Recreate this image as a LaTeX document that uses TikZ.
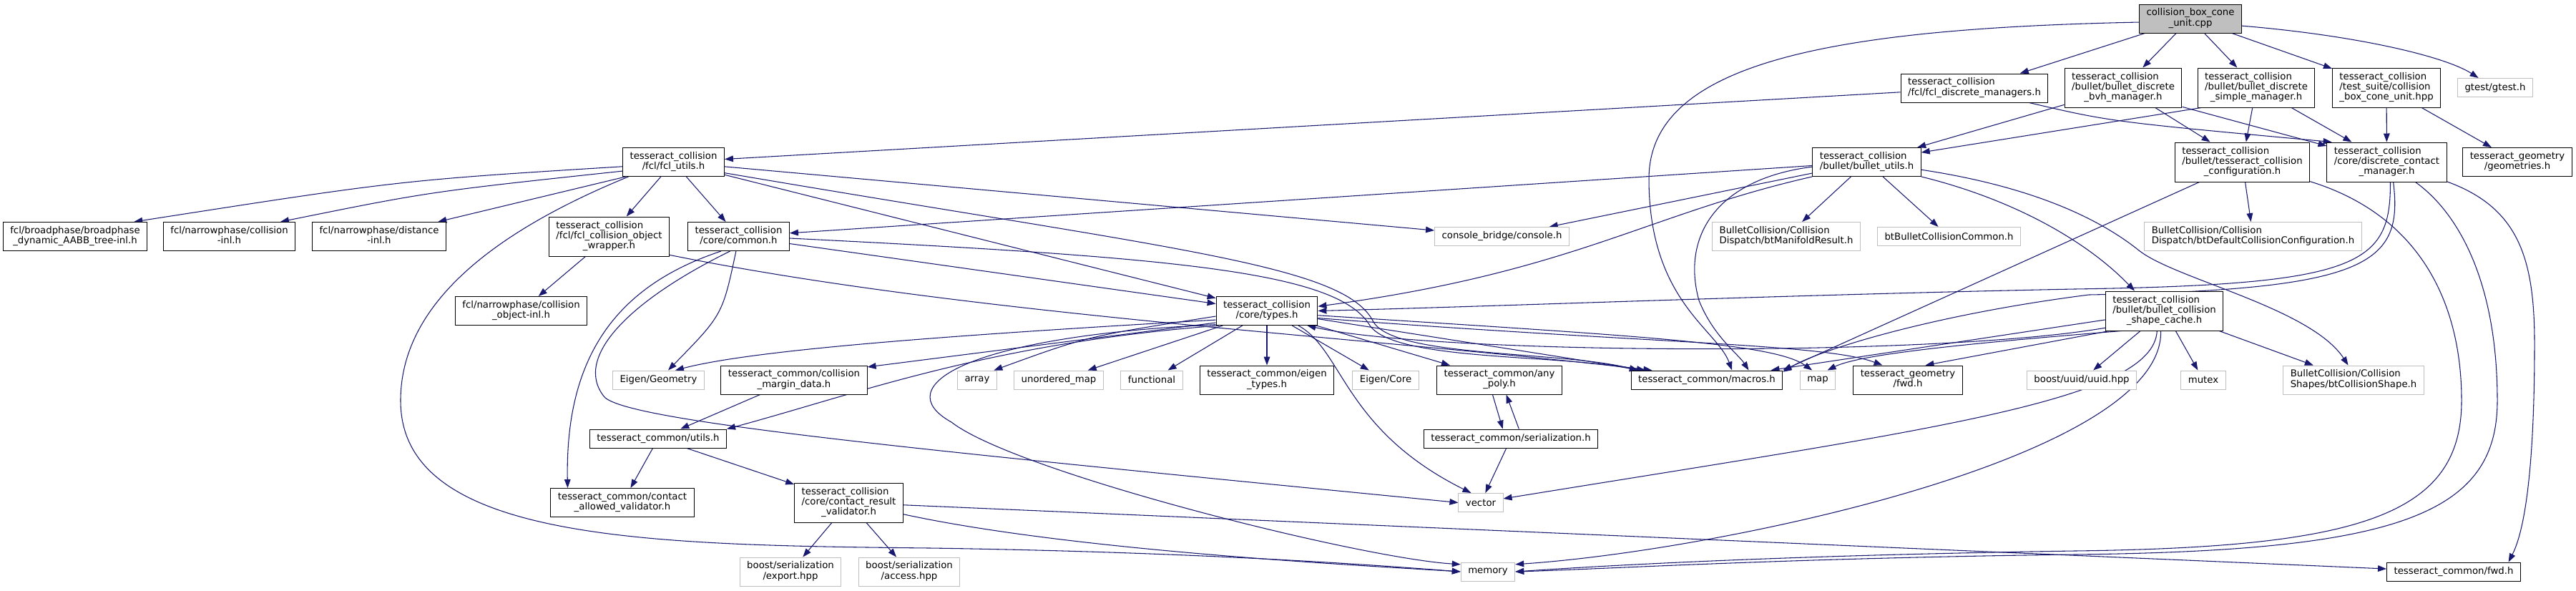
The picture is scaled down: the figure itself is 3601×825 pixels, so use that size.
\documentclass[tikz,border=0pt]{standalone}
\usepackage{fontspec}
\setmainfont{DejaVu Sans}
\usetikzlibrary{arrows.meta}
\definecolor{edgeblue}{HTML}{191970}
\definecolor{extgray}{HTML}{BFBFBF}
\pgfdeclarelayer{edgelayer}
\pgfsetlayers{edgelayer,main}
\newcommand{\lbltwo}[2]{\begin{tabular}{@{}l@{}}#1\\\multicolumn{1}{@{}c@{}}{#2}\end{tabular}}
\newcommand{\lblthree}[3]{\begin{tabular}{@{}l@{}}#1\\#2\\\multicolumn{1}{@{}c@{}}{#3}\end{tabular}}
\tikzset{
  box/.style={draw, line width=0.75bp, inner xsep=7.5bp, inner ysep=0pt, font=\fontsize{10pt}{10.5pt}\selectfont, text=black, fill=white},
  docbox/.style={box, draw=black},
  extbox/.style={box, draw=extgray},
  one/.style={minimum height=19.5bp},
  two/.style={minimum height=30bp},
  three/.style={minimum height=41.25bp},
  dep/.style={draw=edgeblue, line width=0.8bp, -{Triangle[length=9bp,width=6.5bp]}},
}
\begin{document}
\begin{tikzpicture}[x=0.75bp,y=-0.75bp]
\useasboundingbox (0,0) rectangle (3601,825);
% ---- rank A
\node[docbox,two,fill=extgray] (root) at (3062,26) {\lbltwo{collision\_box\_cone}{\_unit.cpp}};
% ---- rank B
\node[docbox,two] (fcldm) at (2760,123) {\lbltwo{tesseract\_collision}{/fcl/fcl\_discrete\_managers.h}};
\node[docbox,three] (bvh) at (2968,122.5) {\lblthree{tesseract\_collision}{/bullet/bullet\_discrete}{\_bvh\_manager.h}};
\node[docbox,three] (simple) at (3154,122.5) {\lblthree{tesseract\_collision}{/bullet/bullet\_discrete}{\_simple\_manager.h}};
\node[docbox,three] (testsuite) at (3336,122.5) {\lblthree{tesseract\_collision}{/test\_suite/collision}{\_box\_cone\_unit.hpp}};
\node[extbox,one] (gtest) at (3488,122.5) {gtest/gtest.h};
% ---- rank C
\node[docbox,two] (fcl_utils) at (941.5,226.5) {\lbltwo{tesseract\_collision}{/fcl/fcl\_utils.h}};
\node[docbox,two] (bullet_utils) at (2609.5,226.5) {\lbltwo{tesseract\_collision}{/bullet/bullet\_utils.h}};
\node[docbox,three] (tcconfig) at (3134.5,226.5) {\lblthree{tesseract\_collision}{/bullet/tesseract\_collision}{\_configuration.h}};
\node[docbox,three] (dcm) at (3336.5,226.5) {\lblthree{tesseract\_collision}{/core/discrete\_contact}{\_manager.h}};
\node[docbox,two] (geometries) at (3519,226.5) {\lbltwo{tesseract\_geometry}{/geometries.h}};
% ---- rank D
\node[docbox,two] (broadphase) at (105,330.5) {\lbltwo{fcl/broadphase/broadphase}{\_dynamic\_AABB\_tree-inl.h}};
\node[docbox,two] (collinl) at (320.5,330.5) {\lbltwo{fcl/narrowphase/collision}{-inl.h}};
\node[docbox,two] (distinl) at (530,330.5) {\lbltwo{fcl/narrowphase/distance}{-inl.h}};
\node[docbox,three] (fclcow) at (851.5,330.5) {\lblthree{tesseract\_collision}{/fcl/fcl\_collision\_object}{\_wrapper.h}};
\node[docbox,two] (common) at (1032.5,330.5) {\lbltwo{tesseract\_collision}{/core/common.h}};
\node[extbox,one] (console) at (2099.5,330.5) {console\_bridge/console.h};
\node[extbox,two] (btManifold) at (2497,330.5) {\lbltwo{BulletCollision/Collision}{Dispatch/btManifoldResult.h}};
\node[extbox,one] (btBulletCC) at (2724.5,330.5) {btBulletCollisionCommon.h};
\node[extbox,two] (btDefaultCC) at (3149.5,330.5) {\lbltwo{BulletCollision/Collision}{Dispatch/btDefaultCollisionConfiguration.h}};
% ---- rank E
\node[docbox,two] (colobjinl) at (728.5,434.5) {\lbltwo{fcl/narrowphase/collision}{\_object-inl.h}};
\node[docbox,two] (types) at (1771,434.5) {\lbltwo{tesseract\_collision}{/core/types.h}};
\node[docbox,three] (shape_cache) at (3025.5,434.5) {\lblthree{tesseract\_collision}{/bullet/bullet\_collision}{\_shape\_cache.h}};
% ---- rank F
\node[extbox,one] (EigenGeom) at (920.5,531) {Eigen/Geometry};
\node[docbox,two] (margin) at (1110,531) {\lbltwo{tesseract\_common/collision}{\_margin\_data.h}};
\node[extbox,one] (array) at (1366,531) {array};
\node[extbox,one] (unordered_map) at (1480,531) {unordered\_map};
\node[extbox,one] (functional) at (1610,531) {functional};
\node[docbox,two] (eigen_types) at (1771,531) {\lbltwo{tesseract\_common/eigen}{\_types.h}};
\node[extbox,one] (EigenCore) at (1937,531) {Eigen/Core};
\node[docbox,two] (any_poly) at (2096,531) {\lbltwo{tesseract\_common/any}{\_poly.h}};
\node[docbox,one] (macros) at (2386,531) {tesseract\_common/macros.h};
\node[extbox,one] (map) at (2541,531) {map};
\node[docbox,two] (geomfwd) at (2667,531) {\lbltwo{tesseract\_geometry}{/fwd.h}};
\node[extbox,one] (uuid) at (2910,531) {boost/uuid/uuid.hpp};
\node[extbox,one] (mutex) at (3080,531) {mutex};
\node[extbox,two] (btCollisionShape) at (3290,531) {\lbltwo{BulletCollision/Collision}{Shapes/btCollisionShape.h}};
% ---- rank G
\node[docbox,one] (utils) at (920,613) {tesseract\_common/utils.h};
\node[docbox,one] (serialization) at (2112,613) {tesseract\_common/serialization.h};
% ---- rank H
\node[docbox,two] (contact_allowed) at (870,702.5) {\lbltwo{tesseract\_common/contact}{\_allowed\_validator.h}};
\node[docbox,three] (contact_result) at (1186.5,702.5) {\lblthree{tesseract\_collision}{/core/contact\_result}{\_validator.h}};
\node[extbox,one] (vector) at (2070,702.5) {vector};
% ---- rank I
\node[extbox,two] (export) at (1105,799) {\lbltwo{boost/serialization}{/export.hpp}};
\node[extbox,two] (access) at (1271,799) {\lbltwo{boost/serialization}{/access.hpp}};
\node[extbox,one] (memory) at (2080,799) {memory};
\node[docbox,one] (fwd) at (3430,799) {tesseract\_common/fwd.h};

\begin{pgfonlayer}{edgelayer}
% root
\draw[dep] (root) -- (fcldm);
\draw[dep] (root) -- (bvh);
\draw[dep] (root) -- (simple);
\draw[dep] (root) -- (testsuite);
\draw[dep] (root.-8) .. controls (3300,50) and (3420,80) .. (gtest.150);
\draw[dep] (root.-176) .. controls (2550,40) and (2305,90) .. (2305,250) .. controls (2305,420) and (2400,460) .. (macros.21);
% rank B
\draw[dep] (fcldm) -- (fcl_utils);
\draw[dep] (fcldm.-15) .. controls (2950,170) .. (dcm.160);
\draw[dep] (bvh) -- (bullet_utils);
\draw[dep] (bvh) -- (tcconfig);
\draw[dep] (bvh.-18) -- (dcm.165);
\draw[dep] (simple.-160) -- (bullet_utils.10);
\draw[dep] (simple) -- (tcconfig);
\draw[dep] (simple) -- (dcm);
\draw[dep] (testsuite) -- (dcm);
\draw[dep] (testsuite) -- (geometries);
% fcl_utils
\draw[dep] (fcl_utils.185) .. controls (560,252) .. (broadphase.14);
\draw[dep] (fcl_utils.190) .. controls (600,268) .. (collinl.16);
\draw[dep] (fcl_utils.197) -- (distinl.14);
\draw[dep] (fcl_utils) -- (fclcow);
\draw[dep] (fcl_utils) -- (common);
\draw[dep] (fcl_utils) -- (console);
\draw[dep] (fcl_utils) -- (types);
\draw[dep] (fcl_utils.-12) .. controls (1650,350) and (1880,370) .. (1920,450) .. controls (1950,500) and (2180,490) .. (macros.172);
\draw[dep] (fcl_utils.-162) .. controls (700,320) and (560,420) .. (560,560) .. controls (560,755) and (900,762) .. (1300,766) .. controls (1700,772) and (1950,792) .. (memory.west);
% fcl wrapper
\draw[dep] (fclcow) -- (colobjinl);
\draw[dep] (fclcow.-17) .. controls (1350,440) and (1900,470) .. (macros.170);
% common
\draw[dep] (common) -- (types);
\draw[dep] (common.-2) .. controls (1650,360) and (1870,380) .. (1915,455) .. controls (1950,505) and (2180,495) .. (macros.172);
\draw[dep] (common.-100) .. controls (1010,440) .. (EigenGeom.45);
\draw[dep] (common.-120) .. controls (880,420) and (800,500) .. (845,555) .. controls (880,590) and (1300,630) .. (vector.west);
\draw[dep] (common.-140) .. controls (860,400) and (790,500) .. (contact_allowed.165);
% types
\draw[dep] (types.190) .. controls (1300,470) and (1050,490) .. (EigenGeom.30);
\draw[dep] (types.193) -- (margin.10);
\draw[dep] (types.186) .. controls (1520,470) .. (array.30);
\draw[dep] (types) -- (unordered_map);
\draw[dep] (types) -- (functional);
\draw[dep] (types) -- (eigen_types);
\draw[dep] (types) -- (EigenCore);
\draw[dep] (types) -- (any_poly);
\draw[dep] (types) -- (macros);
\draw[dep] (types.-5) .. controls (2300,470) and (2480,480) .. (map.120);
\draw[dep] (types.-8) .. controls (2300,480) and (2550,480) .. (geomfwd.150);
\draw[dep] (types.-25) .. controls (1878,490) and (1878,600) .. (vector.135);
\draw[dep] (types.195) .. controls (1350,470) and (1240,540) .. (1330,590) .. controls (1420,660) and (1900,780) .. (memory.165);
\draw[dep] (types.197) .. controls (1380,480) and (1200,550) .. (utils.8);
% discrete contact manager
\draw[dep] (dcm.-80) .. controls (3342,370) and (3300,398) .. (2900,404) .. controls (2500,412) and (2100,428) .. (types.east);
\draw[dep] (dcm.-72) .. controls (3360,370) and (3310,405) .. (2920,412) .. controls (2700,440) and (2540,490) .. (macros.6);
\draw[dep] (dcm.-35) .. controls (3440,300) and (3491,400) .. (3491,560) .. controls (3491,720) and (3350,770) .. (2900,775) .. controls (2500,780) and (2250,795) .. (memory.east);
\draw[dep] (dcm.-18) .. controls (3520,290) and (3543,360) .. (3543,480) .. controls (3543,650) and (3530,740) .. (fwd.10);
% collision configuration
\draw[dep] (tcconfig) -- (btDefaultCC);
\draw[dep] (tcconfig.-155) -- (macros.north east);
\draw[dep] (tcconfig.-16) .. controls (3380,300) and (3441,420) .. (3441,560) .. controls (3441,720) and (3300,765) .. (2900,770) .. controls (2500,776) and (2250,790) .. (memory.east);
% bullet utils
\draw[dep] (bullet_utils) -- (common);
\draw[dep] (bullet_utils) -- (console);
\draw[dep] (bullet_utils.-165) .. controls (2300,300) and (2200,380) .. (types.5);
\draw[dep] (bullet_utils.-175) .. controls (2400,250) and (2350,330) .. (2375,420) .. controls (2395,470) and (2430,495) .. (macros.13);
\draw[dep] (bullet_utils) -- (btManifold);
\draw[dep] (bullet_utils) -- (btBulletCC);
\draw[dep] (bullet_utils.-15) .. controls (2820,280) and (2920,340) .. (shape_cache.146);
\draw[dep] (bullet_utils.-8) .. controls (2850,262) and (2940,310) .. (2990,350) .. controls (3040,390) and (3230,430) .. (btCollisionShape.110);
% shape cache
\draw[dep] (shape_cache.196) .. controls (2700,500) and (2000,495) .. (types.-20);
\draw[dep] (shape_cache.200) -- (geomfwd.40);
\draw[dep] (shape_cache) -- (macros);
\draw[dep] (shape_cache.205) .. controls (2750,480) and (2600,495) .. (map.45);
\draw[dep] (shape_cache) -- (uuid);
\draw[dep] (shape_cache) -- (mutex);
\draw[dep] (shape_cache) -- (btCollisionShape);
\draw[dep] (shape_cache.-110) .. controls (3010,560) and (2700,600) .. (vector.10);
\draw[dep] (shape_cache.-100) .. controls (3025,640) and (2400,770) .. (memory.15);
% contact result validator
\draw[dep] (contact_result) -- (export);
\draw[dep] (contact_result) -- (access);
\draw[dep] (contact_result) -- (fwd);
\draw[dep] (contact_result.-12) .. controls (1500,770) and (1900,790) .. (memory.west);
% utils / margin
\draw[dep] (margin) -- (utils);
\draw[dep] (utils) -- (contact_allowed);
\draw[dep] (utils) -- (contact_result);
% any_poly / serialization
\draw[dep] (any_poly.-115) -- (serialization.130);
\draw[dep] (serialization.50) -- (any_poly.-65);
\draw[dep] (serialization) -- (vector);
\end{pgfonlayer}
\end{tikzpicture}
\end{document}
